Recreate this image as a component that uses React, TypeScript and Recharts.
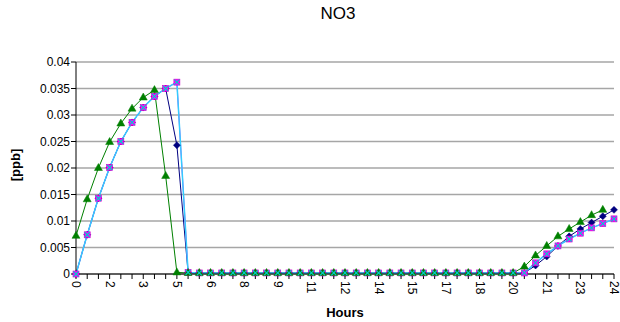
import { LineChart, Line, XAxis, YAxis, CartesianGrid } from "recharts";

// half-hour steps over the day
const hours = [
  0, 0.5, 1, 1.5, 2, 2.5, 3, 3.5, 4, 4.5, 5, 5.5, 6, 6.5, 7, 7.5, 8, 8.5, 9, 9.5,
  10, 10.5, 11, 11.5, 12, 12.5, 13, 13.5, 14, 14.5, 15, 15.5, 16, 16.5, 17, 17.5,
  18, 18.5, 19, 19.5, 20, 20.5, 21, 21.5, 22, 22.5, 23, 23.5, 24,
];

// one label every third category
const hourLabels = ["0", "2", "3", "5", "6", "8", "9", "11", "12", "14", "15", "17", "18", "20", "21", "23", "24"];

const yTicks = [0, 0.005, 0.01, 0.015, 0.02, 0.025, 0.03, 0.035, 0.04];
const yLabels = ["0", "0.005", "0.01", "0.015", "0.02", "0.025", "0.03", "0.035", "0.04"];

const navy = [
  0, 0.0074, 0.0143, 0.0201, 0.025, 0.0286, 0.0314, 0.0335, 0.035, 0.0243,
  0.0003, 0.0002, 0.0002, 0.0002, 0.0002, 0.0002, 0.0002, 0.0002, 0.0002, 0.0002,
  0.0002, 0.0002, 0.0002, 0.0002, 0.0002, 0.0002, 0.0002, 0.0002, 0.0002, 0.0002,
  0.0002, 0.0002, 0.0002, 0.0002, 0.0002, 0.0002, 0.0002, 0.0002, 0.0002, 0.0002,
  0.0002, 0.0016, 0.0033, 0.0053, 0.0071, 0.0085, 0.0097, 0.0109, 0.0121,
];

const magenta = [
  0, 0.0074, 0.0143, 0.0201, 0.025, 0.0286, 0.0314, 0.0335, 0.035, 0.0362,
  0.0003, 0.0002, 0.0002, 0.0002, 0.0002, 0.0002, 0.0002, 0.0002, 0.0002, 0.0002,
  0.0002, 0.0002, 0.0002, 0.0002, 0.0002, 0.0002, 0.0002, 0.0002, 0.0002, 0.0002,
  0.0002, 0.0002, 0.0002, 0.0002, 0.0002, 0.0002, 0.0002, 0.0002, 0.0002, 0.0002,
  0.0002, 0.0021, 0.0038, 0.0053, 0.0066, 0.0077, 0.0087, 0.0095, 0.0104,
];

const green = [
  0.0072, 0.0141, 0.02, 0.0249, 0.0284, 0.0312, 0.0333, 0.0347, 0.0185, 0.0003,
  0.0002, 0.0002, 0.0002, 0.0002, 0.0002, 0.0002, 0.0002, 0.0002, 0.0002, 0.0002,
  0.0002, 0.0002, 0.0002, 0.0002, 0.0002, 0.0002, 0.0002, 0.0002, 0.0002, 0.0002,
  0.0002, 0.0002, 0.0002, 0.0002, 0.0002, 0.0002, 0.0002, 0.0002, 0.0002, 0.0002,
  0.0014, 0.0035, 0.0053, 0.0071, 0.0085, 0.0098, 0.0111, 0.0121, null,
];

const cyan = [
  0, 0.0074, 0.0143, 0.0201, 0.025, 0.0286, 0.0314, 0.0335, 0.035, 0.0362,
  0.0003, 0.0002, 0.0002, 0.0002, 0.0002, 0.0002, 0.0002, 0.0002, 0.0002, 0.0002,
  0.0002, 0.0002, 0.0002, 0.0002, 0.0002, 0.0002, 0.0002, 0.0002, 0.0002, 0.0002,
  0.0002, 0.0002, 0.0002, 0.0002, 0.0002, 0.0002, 0.0002, 0.0002, 0.0002, 0.0002,
  0.0002, 0.0021, 0.0038, 0.0053, 0.0066, 0.0077, 0.0087, 0.0095, 0.0104,
];

const data = hours.map((h, i) => ({
  hour: h,
  navy: navy[i],
  magenta: magenta[i],
  green: green[i],
  cyan: cyan[i],
}));

const FONT = "Arial, 'Liberation Sans', sans-serif";

type DotProps = { cx?: number; cy?: number; index?: number; value?: unknown };

function Diamond({ cx, cy, index }: DotProps) {
  if (cx == null || cy == null) return <g key={index} />;
  const r = 3.5;
  return (
    <path key={index} d={`M${cx},${cy - r}L${cx + r},${cy}L${cx},${cy + r}L${cx - r},${cy}Z`} fill="#000080" stroke="#000080" strokeWidth={0.5} />
  );
}

function Square({ cx, cy, index }: DotProps) {
  if (cx == null || cy == null) return <g key={index} />;
  return <rect key={index} x={cx - 3} y={cy - 3} width={6} height={6} fill="#FF00FF" stroke="#CC00CC" strokeWidth={0.6} />;
}

function Triangle({ cx, cy, index, value }: DotProps) {
  if (cx == null || cy == null || value == null) return <g key={index} />;
  return (
    <path key={index} d={`M${cx},${cy - 4.5}L${cx + 4},${cy + 2.5}L${cx - 4},${cy + 2.5}Z`} fill="#008000" stroke="#008000" strokeWidth={0.5} />
  );
}

function Cross({ cx, cy, index }: DotProps) {
  if (cx == null || cy == null) return <g key={index} />;
  const r = 2.5;
  return (
    <path key={index} d={`M${cx - r},${cy - r}L${cx + r},${cy + r}M${cx + r},${cy - r}L${cx - r},${cy + r}`} stroke="#00CCCC" strokeWidth={1.2} fill="none" />
  );
}

function HourTick({ x, y, index }: { x?: number; y?: number; index?: number }) {
  if (x == null || y == null || index == null || index % 3 !== 0) return <g />;
  return (
    <text
      transform={`translate(${x},${y}) rotate(90)`}
      textAnchor="start"
      dominantBaseline="central"
      fontSize={12}
      fontFamily={FONT}
      fill="#000"
    >
      {hourLabels[index / 3]}
    </text>
  );
}

function PpbLabel({ viewBox }: { viewBox?: { x: number; y: number; width: number; height: number } }) {
  if (!viewBox) return null;
  const cy = viewBox.y + viewBox.height / 2 - 3;
  return (
    <text
      transform={`translate(15,${cy}) rotate(-90)`}
      textAnchor="middle"
      dominantBaseline="central"
      fontSize={13}
      fontWeight="bold"
      fontFamily={FONT}
      fill="#000"
    >
      [ppb]
    </text>
  );
}

export default function App() {
  return (
    <div style={{ position: "absolute", left: 0, top: 0, width: 620, height: 322, background: "#fff", fontFamily: FONT }}>
      <div style={{ position: "absolute", left: 0, width: 676, top: 4, textAlign: "center", fontSize: 17, color: "#000" }}>NO3</div>
      <LineChart width={620} height={322} data={data} margin={{ top: 62, right: 6, bottom: 0, left: 0 }}>
        <CartesianGrid vertical={false} stroke="#a6a6a6" strokeWidth={1.5} />
        <XAxis
          dataKey="hour"
          type="category"
          interval={0}
          tick={<HourTick />}
          tickSize={5}
          axisLine={{ stroke: "#000" }}
          tickLine={{ stroke: "#000" }}
          height={48}
          label={{ value: "Hours", position: "insideBottom", offset: 5, fontSize: 13, fontWeight: "bold", fill: "#000", fontFamily: FONT }}
        />
        <YAxis
          domain={[0, 0.04]}
          ticks={yTicks}
          width={76}
          tickSize={5}
          tickMargin={1}
          interval={0}
          axisLine={{ stroke: "#000" }}
          tickLine={{ stroke: "#000" }}
          tick={{ fontSize: 12, fill: "#000", fontFamily: FONT }}
          tickFormatter={(v: number) => yLabels[yTicks.indexOf(v)] ?? String(v)}
          label={<PpbLabel />}
        />
        <Line dataKey="navy" stroke="#000080" strokeWidth={1} dot={<Diamond />} isAnimationActive={false} />
        <Line dataKey="magenta" stroke="#FF00FF" strokeWidth={1} dot={<Square />} isAnimationActive={false} />
        <Line dataKey="green" stroke="#008000" strokeWidth={1} dot={<Triangle />} isAnimationActive={false} />
        <Line dataKey="cyan" stroke="#33CCFF" strokeWidth={1.5} dot={<Cross />} isAnimationActive={false} />
      </LineChart>
    </div>
  );
}
